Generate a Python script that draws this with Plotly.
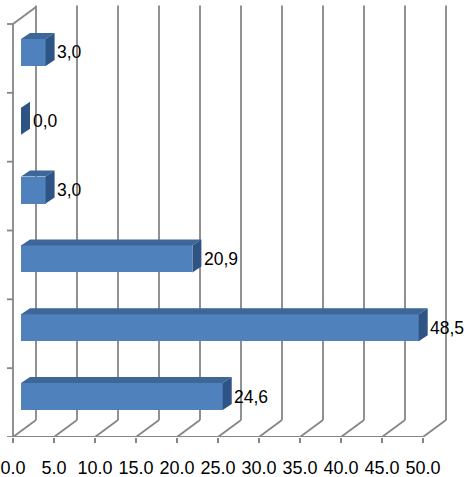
import plotly.graph_objects as go

# ---- data (bottom to top) ----
categories = ["1", "2", "3", "4", "5", "6"]
values = [24.6, 48.5, 20.9, 3.0, 0.0, 3.0]
tick_values = [0, 5, 10, 15, 20, 25, 30, 35, 40, 45, 50]
tick_labels = [f"{t:.1f}" for t in tick_values]
value_labels = [f"{v:.1f}".replace(".", ",") for v in values]

# ---- geometry ----
W, H = 466, 477
SX = 8.2                    # px per x unit
SY = 413 / 6                # px per category slot
X0PX = 13                   # pixel of x=0 on front plane
BOTTOM = 437                # pixel of the front floor edge

DEPTH_X = 23 / SX   # full depth offset (back wall)
DEPTH_Y = 17 / SY
BAR_OFF_X = 8 / SX  # bar front face offset
BAR_OFF_Y = 6 / SY
BAR_D_X = 9 / SX    # bar depth
BAR_D_Y = 6 / SY
BAR_H = 27 / SY

n = len(categories)
xr = [-X0PX / SX, (W - X0PX) / SX]
yr = [0, BOTTOM / SY]

GRID = "#858585"
FRONT = "#4F81BD"
TOP = "#3D6699"
SIDE = "#2E5486"

fig = go.Figure()

shapes = []
line = dict(color=GRID, width=1.8)
top_back = n + DEPTH_Y + 0.02
for t in tick_values:
    # back wall vertical grid
    shapes.append(dict(type="line", xref="x", yref="y", x0=t + DEPTH_X, x1=t + DEPTH_X,
                       y0=DEPTH_Y, y1=top_back, line=line, layer="below"))
    # floor diagonal
    shapes.append(dict(type="line", xref="x", yref="y", x0=t, x1=t + DEPTH_X,
                       y0=0, y1=DEPTH_Y, line=line, layer="below"))
# front floor edge
shapes.append(dict(type="line", xref="x", yref="y", x0=0, x1=tick_values[-1],
                   y0=0, y1=0, line=line, layer="below"))
# left wall front edge + top diagonal
shapes.append(dict(type="line", xref="x", yref="y", x0=0, x1=0, y0=0, y1=n,
                   line=line, layer="below"))
shapes.append(dict(type="line", xref="x", yref="y", x0=0, x1=DEPTH_X, y0=n, y1=n + DEPTH_Y,
                   line=line, layer="below"))
# left tick marks
for k in range(n + 1):
    shapes.append(dict(type="line", xref="x", yref="y", x0=-6 / SX, x1=0, y0=k, y1=k,
                       line=line, layer="below"))

# front faces
centers = [i + 0.5 + BAR_OFF_Y for i in range(n)]
fig.add_trace(go.Bar(
    y=centers, x=values, base=BAR_OFF_X, orientation="h", width=BAR_H,
    marker=dict(color=FRONT, line=dict(width=0)), hoverinfo="skip", showlegend=False,
))

# top and side faces
tx, ty, sx_, sy_ = [], [], [], []
for c, v in zip(centers, values):
    yt = c + BAR_H / 2
    yb = c - BAR_H / 2
    x0 = BAR_OFF_X
    x1 = BAR_OFF_X + v
    tx += [x0, x1, x1 + BAR_D_X, x0 + BAR_D_X, x0, None]
    ty += [yt, yt, yt + BAR_D_Y, yt + BAR_D_Y, yt, None]
    sx_ += [x1, x1, x1 + BAR_D_X, x1 + BAR_D_X, x1, None]
    sy_ += [yb, yt, yt + BAR_D_Y, yb + BAR_D_Y, yb, None]
fig.add_trace(go.Scatter(x=tx, y=ty, mode="lines", fill="toself", fillcolor=TOP,
                         line=dict(width=0, color=TOP), hoverinfo="skip", showlegend=False))
fig.add_trace(go.Scatter(x=sx_, y=sy_, mode="lines", fill="toself", fillcolor=SIDE,
                         line=dict(width=0, color=SIDE), hoverinfo="skip", showlegend=False))

annotations = []
for c, v, lab in zip(centers, values, value_labels):
    annotations.append(dict(x=v + BAR_OFF_X + BAR_D_X + 0.5 / SX, y=c, xref="x", yref="y",
                            text=lab, showarrow=False, xanchor="left", yanchor="middle",
                            font=dict(family="Liberation Sans", size=17.5, color="black")))

fig.update_layout(
    width=W, height=H,
    margin=dict(l=0, r=0, t=0, b=H - BOTTOM),
    paper_bgcolor="white", plot_bgcolor="white",
    shapes=shapes, annotations=annotations,
    bargap=0, showlegend=False,
    xaxis=dict(range=xr, showgrid=False, zeroline=False, showline=False,
               tickmode="array", tickvals=tick_values, ticktext=tick_labels,
               ticks="outside", ticklen=5, tickwidth=1.5, tickcolor=GRID,
               ticklabelstandoff=9, ticklabeloverflow="allow",
               tickfont=dict(family="Liberation Sans", size=18, color="black"),
               automargin=False, fixedrange=True),
    yaxis=dict(range=yr, showgrid=False, zeroline=False, showline=False,
               showticklabels=False, ticks="", automargin=False, fixedrange=True),
)

fig.write_html("out.html", config={"displayModeBar": False},
               post_script="document.body.style.margin='0';")
